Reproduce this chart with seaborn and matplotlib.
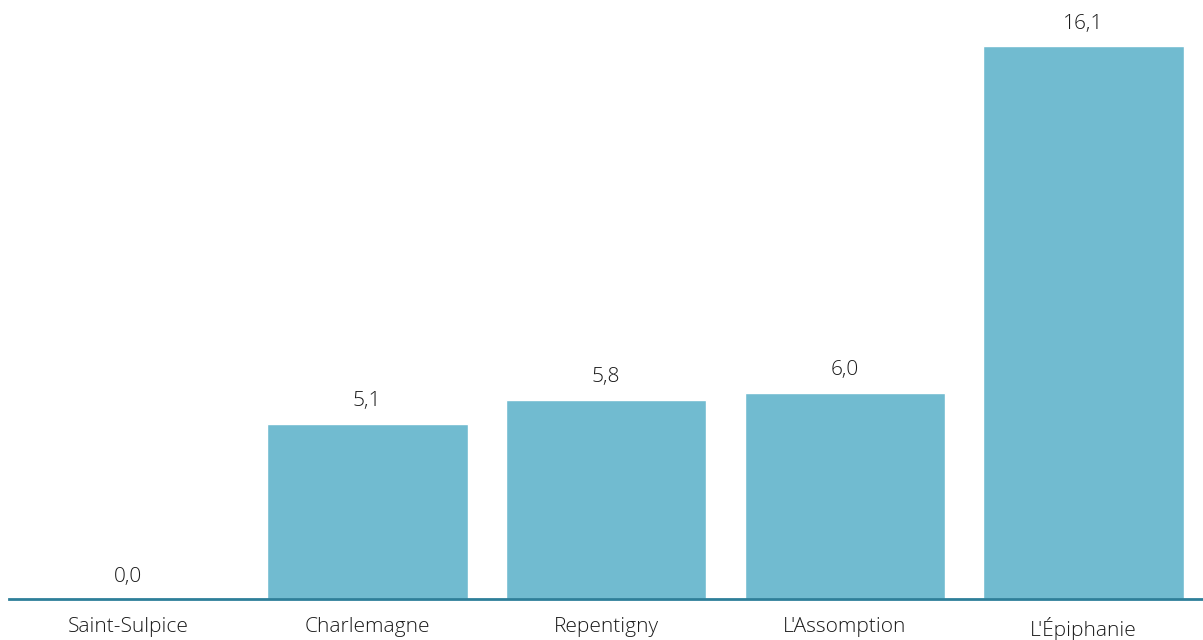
import pandas as pd
import matplotlib
matplotlib.use("Agg")
import matplotlib.pyplot as plt
import seaborn as sns

# -------------------------------
# Data
# -------------------------------
municipalities = ["Saint-Sulpice", "Charlemagne", "Repentigny", "L'Assomption", "L'Épiphanie"]
values = [0.0, 5.1, 5.8, 6.0, 16.1]

df = pd.DataFrame({"Municipalite": municipalities, "Valeur": values})

sns.set_theme(style="white")
plt.rcParams["font.family"] = ["Open Sans", "DejaVu Sans"]

bar_color = "#71BBD0"
text_color = "#1a1a1a"

fig = plt.figure(figsize=(12.03, 6.4), dpi=100)
ax = fig.add_axes([0.0075, 0.064, 0.9925, 0.936])

sns.barplot(data=df, x="Municipalite", y="Valeur", color=bar_color,
            width=0.84, saturation=1, ax=ax)

# value labels (french decimal comma)
for i, v in enumerate(values):
    ax.annotate(f"{v:.1f}".replace(".", ","), (i, v), xytext=(0, 9),
                textcoords="offset points", ha="center", va="bottom",
                fontsize=15, color=text_color, fontweight="light")

ax.set_xlim(-0.5, 4.5)
ax.set_ylim(0, 17.44)
ax.set_xlabel("")
ax.set_ylabel("")
ax.set_yticks([])
ax.tick_params(axis="x", length=0, pad=13, labelsize=15, labelcolor=text_color)
for lbl in ax.get_xticklabels():
    lbl.set_fontweight("light")

for side in ["top", "right", "left"]:
    ax.spines[side].set_visible(False)
ax.spines["bottom"].set_color("#2E7F99")
ax.spines["bottom"].set_linewidth(2)

plt.savefig("out.png", dpi=100)
